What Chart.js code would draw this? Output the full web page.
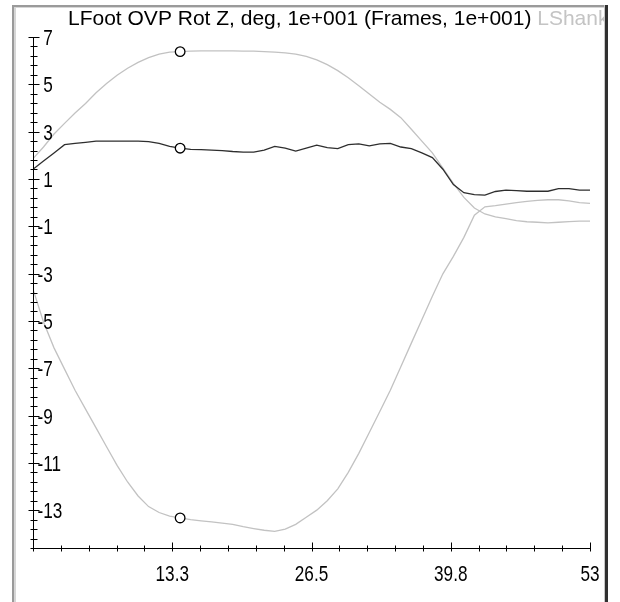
<!DOCTYPE html>
<html>
<head>
<meta charset="utf-8">
<script src="https://cdn.jsdelivr.net/npm/chart.js@4.4.1/dist/chart.umd.min.js"></script>
<style>
  html, body { margin: 0; padding: 0; background: #fff; }
  canvas { display: block; }
</style>
</head>
<body>
<canvas id="rotChart" width="620" height="602"></canvas>
<script>
// LFoot OVP Rot Z (deg, x10) per frame 0..53
const footRotZ = [1.41, 1.76, 2.10, 2.45, 2.50, 2.55, 2.60, 2.60, 2.60, 2.60,
  2.60, 2.58, 2.50, 2.38, 2.30, 2.25, 2.24, 2.22, 2.20, 2.16,
  2.13, 2.13, 2.22, 2.38, 2.30, 2.18, 2.30, 2.43, 2.32, 2.28,
  2.45, 2.48, 2.40, 2.48, 2.50, 2.35, 2.28, 2.10, 1.90, 1.41,
  0.76, 0.42, 0.34, 0.32, 0.47, 0.53, 0.51, 0.48, 0.48, 0.48,
  0.59, 0.59, 0.53, 0.53];

// LShank curves (light grey)
const shankUpper = [1.86, 2.35, 2.90, 3.35, 3.79, 4.19, 4.64, 5.03, 5.38, 5.68,
  5.93, 6.13, 6.28, 6.36, 6.38, 6.40, 6.41, 6.41, 6.41, 6.41,
  6.40, 6.40, 6.38, 6.36, 6.33, 6.28, 6.18, 6.03, 5.83, 5.58,
  5.28, 4.94, 4.59, 4.24, 3.94, 3.59, 3.10, 2.60, 2.10, 1.46,
  0.81, 0.22, -0.23, -0.48, -0.60, -0.68, -0.76, -0.81, -0.83, -0.86,
  -0.83, -0.80, -0.78, -0.78];

const shankLower = [-3.66, -5.05, -6.14, -7.04, -7.93, -8.73, -9.52, -10.32, -11.11, -11.81,
  -12.40, -12.85, -13.10, -13.25, -13.33, -13.40, -13.45, -13.50, -13.55, -13.60,
  -13.70, -13.78, -13.85, -13.90, -13.80, -13.60, -13.30, -13.00, -12.60, -12.10,
  -11.40, -10.60, -9.72, -8.83, -7.93, -6.94, -5.94, -4.95, -3.96, -3.01,
  -2.27, -1.47, -0.53, -0.18, -0.13, -0.06, 0.00, 0.05, 0.09, 0.12,
  0.12, 0.07, 0.00, -0.03];

const markerFrame = 14;

const xMin = 0, xMax = 53;
const yMin = -14.6, yMax = 7;
const xTickValues = [13.25, 26.5, 39.75, 53];
const xTickLabels = ['13.3', '26.5', '39.8', '53'];
const xMinorStep = 2.65;
const yTickValues = [7, 5, 3, 1, -1, -3, -5, -7, -9, -11, -13];
const yMinorStep = 0.4;

const titleMain = 'LFoot OVP Rot Z, deg, 1e+001 (Frames, 1e+001)';
const titleExtra = ' LShank';

function toPoints(arr) {
  return arr.map((v, i) => ({ x: i, y: v }));
}

function markerRadius(ctx) {
  return ctx.dataIndex === markerFrame ? 4.8 : 0;
}

const tickFont = '22px "Liberation Sans", Arial, sans-serif';
const tickSqueeze = 0.78;

// frame + axes drawn by hand, positions come from the chart scales
const frameAxes = {
  id: 'frameAxes',
  beforeDraw(chart) {
    const c = chart.ctx;
    const W = chart.width, H = chart.height;
    c.save();
    c.fillStyle = '#fff';
    c.fillRect(0, 0, W, H);
    // window border
    c.fillStyle = '#9a9a9a';
    c.fillRect(12, 5, 2, H);
    c.fillRect(12, 5, 594, 2);
    c.fillStyle = '#d6d6d6';
    c.fillRect(14, 7, 2, H);
    c.fillRect(14, 7, 590, 1);
    c.fillStyle = '#c8c8c8';
    c.fillRect(604, 5, 1, H);
    c.fillStyle = '#303030';
    c.fillRect(605, 5, 3, H);
    c.restore();
  },
  afterDraw(chart) {
    const c = chart.ctx;
    const xs = chart.scales.x, ys = chart.scales.y;
    const x0 = Math.round(xs.getPixelForValue(xMin)) + 0.5;
    const yB = Math.round(ys.getPixelForValue(yMin)) + 0.5;
    const yT = Math.round(ys.getPixelForValue(yMax)) + 0.5;
    const xR = Math.round(xs.getPixelForValue(xMax)) + 0.5;
    c.save();
    c.strokeStyle = '#000';
    c.lineWidth = 1;
    c.beginPath();
    // y axis
    c.moveTo(x0, yT); c.lineTo(x0, yB);
    for (let k = 0; k * yMinorStep <= yMax - yMin + 1e-6; k++) {
      const py = Math.round(ys.getPixelForValue(yMax - k * yMinorStep)) + 0.5;
      const len = k % 5 === 0 ? 5 : 3;
      c.moveTo(x0 - len, py); c.lineTo(x0 + len + 1, py);
    }
    // x axis
    c.moveTo(x0, yB); c.lineTo(xR, yB);
    for (let k = 0; k * xMinorStep <= xMax - xMin + 1e-6; k++) {
      const px = Math.round(xs.getPixelForValue(xMin + k * xMinorStep)) + 0.5;
      const up = k % 5 === 0 ? 6 : 3;
      c.moveTo(px, yB - up); c.lineTo(px, yB + 3);
    }
    c.stroke();

    // tick labels: digits line up, minus sign hangs to the left
    c.fillStyle = '#000';
    c.font = tickFont;
    c.textBaseline = 'middle';
    c.textAlign = 'left';
    const minusW = c.measureText('-').width;
    yTickValues.forEach(v => {
      const py = ys.getPixelForValue(v);
      c.save();
      c.translate(x0 + 4, py + 2);
      c.scale(tickSqueeze, 1);
      c.fillText(String(v), v < 0 ? 0 : minusW, 0);
      c.restore();
    });
    c.textBaseline = 'alphabetic';
    c.textAlign = 'center';
    xTickValues.forEach((v, i) => {
      const px = xs.getPixelForValue(v);
      c.save();
      c.translate(px, yB + 32);
      c.scale(tickSqueeze, 1);
      c.fillText(xTickLabels[i], 0, 0);
      c.restore();
    });

    // title, clipped by the window border
    c.beginPath();
    c.rect(16, 8, 588, 40);
    c.clip();
    c.font = '21px "Liberation Sans", Arial, sans-serif';
    c.textAlign = 'left';
    c.fillStyle = '#000';
    c.fillText(titleMain, 68, 25);
    const w = c.measureText(titleMain).width;
    c.fillStyle = '#c4c4c4';
    c.fillText(titleExtra, 68 + w, 25);
    c.restore();
  }
};

new Chart(document.getElementById('rotChart'), {
  type: 'line',
  data: {
    datasets: [
      {
        label: 'LFoot OVP Rot Z',
        data: toPoints(footRotZ),
        borderColor: '#2e2e2e',
        borderWidth: 1.3,
        pointRadius: markerRadius,
        pointBackgroundColor: '#fff',
        pointBorderColor: '#000',
        pointBorderWidth: 1.3,
        tension: 0,
        order: 0
      },
      {
        label: 'LShank upper',
        data: toPoints(shankUpper),
        borderColor: '#c2c2c2',
        borderWidth: 1.3,
        pointRadius: markerRadius,
        pointBackgroundColor: '#fff',
        pointBorderColor: '#000',
        pointBorderWidth: 1.3,
        tension: 0,
        order: 1
      },
      {
        label: 'LShank lower',
        data: toPoints(shankLower),
        borderColor: '#c2c2c2',
        borderWidth: 1.3,
        pointRadius: markerRadius,
        pointBackgroundColor: '#fff',
        pointBorderColor: '#000',
        pointBorderWidth: 1.3,
        tension: 0,
        order: 2
      }
    ]
  },
  options: {
    responsive: false,
    animation: false,
    layout: { padding: { left: 33, right: 30, top: 37, bottom: 54 } },
    plugins: {
      legend: { display: false },
      tooltip: { enabled: false },
      title: { display: false }
    },
    scales: {
      x: { type: 'linear', min: xMin, max: xMax, display: false },
      y: { type: 'linear', min: yMin, max: yMax, display: false }
    }
  },
  plugins: [frameAxes]
});
</script>
</body>
</html>
